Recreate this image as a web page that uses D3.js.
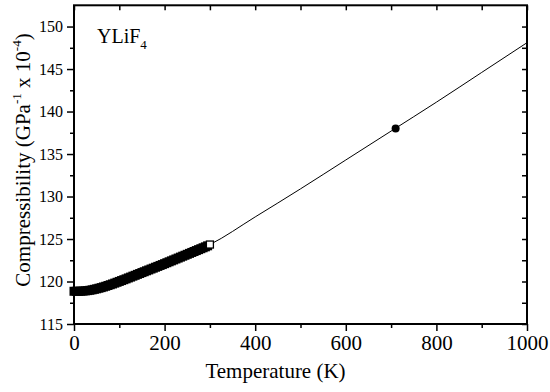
<!DOCTYPE html>
<html>
<head>
<meta charset="utf-8">
<script src="https://cdn.jsdelivr.net/npm/d3@7"></script>
<style>
  html, body { margin: 0; padding: 0; background: #fff; }
  svg { display: block; font-family: "Liberation Serif", "Times New Roman", serif; }
</style>
</head>
<body>
<svg id="chart" width="550" height="392"></svg>
<script>
// measured points, 0-295 K (filled squares)
const measTemp = [0, 5, 10, 15, 20, 25, 30, 35, 40, 45, 50, 55, 60, 65, 70, 75, 80, 85, 90, 95,
                  100, 105, 110, 115, 120, 125, 130, 135, 140, 145, 150, 155, 160, 165, 170, 175, 180, 185, 190, 195,
                  200, 205, 210, 215, 220, 225, 230, 235, 240, 245, 250, 255, 260, 265, 270, 275, 280, 285, 290, 295];
const measComp = [118.85, 118.85, 118.85, 118.86, 118.88, 118.90, 118.93, 118.97, 119.02, 119.08,
                  119.14, 119.21, 119.28, 119.36, 119.44, 119.53, 119.62, 119.71, 119.81, 119.91,
                  120.01, 120.11, 120.21, 120.31, 120.42, 120.52, 120.63, 120.73, 120.84, 120.94,
                  121.05, 121.15, 121.26, 121.36, 121.47, 121.57, 121.68, 121.78, 121.89, 121.99,
                  122.10, 122.21, 122.32, 122.43, 122.54, 122.65, 122.76, 122.87, 122.98, 123.09,
                  123.20, 123.31, 123.42, 123.53, 123.64, 123.75, 123.86, 123.97, 124.08, 124.20];
// room temperature point (open square) and high temperature point (filled circle)
const openTemp = [300];
const openComp = [124.35];
const circTemp = [710];
const circComp = [138.0];
// fitted curve
const fitTemp = [0, 50, 100, 150, 200, 250, 300, 400, 500, 600, 700, 800, 900, 1000];
const fitComp = [118.85, 119.14, 120.01, 121.05, 122.10, 123.20, 124.35, 127.6, 130.9, 134.3, 137.7, 141.1, 144.6, 148.1];

const xMajor = [0, 200, 400, 600, 800, 1000];
const xMinor = [100, 300, 500, 700, 900];
const yMajor = [115, 120, 125, 130, 135, 140, 145, 150];
const yMinor = [117.5, 122.5, 127.5, 132.5, 137.5, 142.5, 147.5];

(function () {
    const svg = d3.select('#chart');
    const pLeft = 74, pRight = 527, pTop = 5.3, pBottom = 324;

    const x = d3.scaleLinear().domain([0, 1000]).range([pLeft, pRight]);
    const y = d3.scaleLinear().domain([115, 152.5]).range([pBottom, pTop]);

    // frame
    svg.append('rect')
        .attr('x', pLeft).attr('y', pTop)
        .attr('width', pRight - pLeft).attr('height', pBottom - pTop)
        .attr('fill', 'none').attr('stroke', '#000').attr('stroke-width', 2);

    function styleAxis(g) {
        g.select('.domain').remove();
        g.selectAll('.tick line').attr('stroke', '#000').attr('stroke-width', 1.5);
    }

    // bottom axis
    svg.append('g')
        .attr('transform', 'translate(0,' + pBottom + ')')
        .call(d3.axisBottom(x).tickValues(xMajor).tickSize(7).tickPadding(4).tickFormat(d3.format('d')))
        .call(styleAxis)
        .call(g => g.selectAll('text').attr('font-size', 21).attr('font-family', 'Liberation Serif').attr('fill', '#000'));
    svg.append('g')
        .attr('transform', 'translate(0,' + pBottom + ')')
        .call(d3.axisBottom(x).tickValues(xMinor).tickSize(4).tickFormat(''))
        .call(styleAxis);

    // top axis (inward ticks)
    svg.append('g')
        .attr('transform', 'translate(0,' + pTop + ')')
        .call(d3.axisBottom(x).tickValues(xMajor.concat(xMinor)).tickSize(5).tickFormat(''))
        .call(styleAxis);

    // left axis
    svg.append('g')
        .attr('transform', 'translate(' + pLeft + ',0)')
        .call(d3.axisLeft(y).tickValues(yMajor).tickSize(7).tickPadding(4).tickFormat(d3.format('d')))
        .call(styleAxis)
        .call(g => g.selectAll('text').attr('font-size', 16).attr('font-family', 'Liberation Serif').attr('fill', '#000'));
    svg.append('g')
        .attr('transform', 'translate(' + pLeft + ',0)')
        .call(d3.axisLeft(y).tickValues(yMinor).tickSize(4).tickFormat(''))
        .call(styleAxis);

    // right axis (inward ticks)
    svg.append('g')
        .attr('transform', 'translate(' + pRight + ',0)')
        .call(d3.axisLeft(y).tickValues(yMajor.concat(yMinor)).tickSize(5).tickFormat(''))
        .call(styleAxis);

    // fitted curve
    const line = d3.line()
        .x((d, i) => x(fitTemp[i]))
        .y(d => y(d))
        .curve(d3.curveMonotoneX);
    svg.append('path')
        .datum(fitComp)
        .attr('d', line)
        .attr('fill', 'none')
        .attr('stroke', '#000')
        .attr('stroke-width', 1);

    // filled squares
    const sq = 9;
    svg.append('g').selectAll('rect')
        .data(measComp)
        .join('rect')
        .attr('x', (d, i) => x(measTemp[i]) - sq / 2)
        .attr('y', d => y(d) - sq / 2)
        .attr('width', sq).attr('height', sq)
        .attr('fill', '#000');

    // open square
    svg.append('g').selectAll('rect')
        .data(openComp)
        .join('rect')
        .attr('x', (d, i) => x(openTemp[i]) - 3.5)
        .attr('y', d => y(d) - 3.5)
        .attr('width', 7).attr('height', 7)
        .attr('fill', '#fff').attr('stroke', '#000').attr('stroke-width', 1.3);

    // filled circle
    svg.append('g').selectAll('circle')
        .data(circComp)
        .join('circle')
        .attr('cx', (d, i) => x(circTemp[i]))
        .attr('cy', d => y(d))
        .attr('r', 4)
        .attr('fill', '#000');

    // axis titles
    svg.append('text')
        .attr('x', (pLeft + pRight) / 2 - 25)
        .attr('y', 378)
        .attr('text-anchor', 'middle')
        .attr('font-size', 21)
        .text('Temperature (K)');

    const yt = svg.append('text')
        .attr('transform', 'translate(30,160) rotate(-90)')
        .attr('text-anchor', 'middle')
        .attr('font-size', 21);
    yt.append('tspan').text('Compressibility (GPa');
    yt.append('tspan').attr('font-size', 13).attr('dy', -9).text('-1');
    yt.append('tspan').attr('dy', 9).text(' x 10');
    yt.append('tspan').attr('font-size', 13).attr('dy', -9).text('-4');
    yt.append('tspan').attr('dy', 9).text(')');

    // sample label
    const lab = svg.append('text')
        .attr('x', 97).attr('y', 43)
        .attr('font-size', 20);
    lab.append('tspan').text('YLiF');
    lab.append('tspan').attr('font-size', 13).attr('dy', 6).text('4');
})();
</script>
</body>
</html>
